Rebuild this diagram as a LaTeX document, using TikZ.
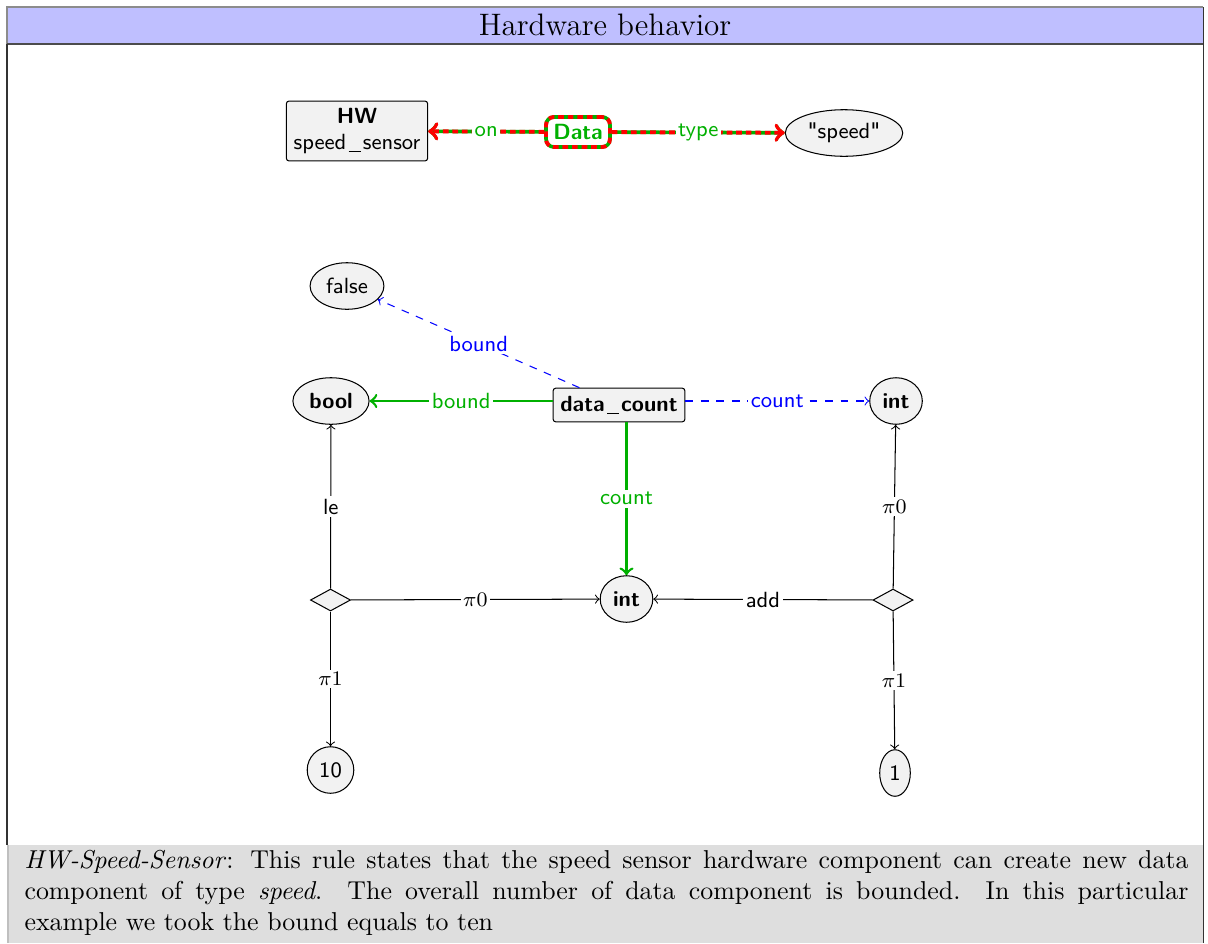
\documentclass[tikz,border=0pt]{standalone}
\usepackage{tikz}
\usetikzlibrary{shapes.geometric,positioning}
\definecolor{titleblue}{RGB}{191,191,255}
\definecolor{notegray}{RGB}{222,222,222}
\definecolor{nodegray}{RGB}{242,242,242}
\definecolor{newgreen}{RGB}{0,176,0}
\newcommand{\usc}{\kern0.9pt\rule[-1.1pt]{4.6pt}{0.45pt}\kern0.9pt}

\begin{document}
\begin{tikzpicture}[
      x=0.3866pt, y=-0.3866pt,
      every node/.style={font=\sffamily\fontsize{8.5}{10}\selectfont},
      ent/.style ={ellipse, draw, fill=nodegray, inner sep=2pt,
                   minimum height=18pt},
      comp/.style={rectangle, rounded corners=1pt, draw, fill=nodegray,
                   inner sep=2.8pt, align=center},
      tup/.style ={diamond, draw, fill=nodegray, inner sep=0pt,
                   minimum width=15.5pt, minimum height=8.5pt},
      arr/.style   ={->, thin},
      newarr/.style={->, draw=newgreen, line width=1pt},
      negarr/.style={->, draw=blue, thin, dashed},
      crearr/.style={->, draw=newgreen, line width=1.4pt},
      delarr/.style={->, draw=red, line width=1.5pt, dash pattern=on 2.2pt off 1.5pt},
      lbl/.style={fill=white, inner sep=1pt}
    ]
    \useasboundingbox (0,0) rectangle (1208,943);
    % --- frame ---
    \fill[titleblue] (7,7) rectangle (1203,44);
    \draw[black!45] (7,44) -- (7,7) -- (1203,7);
    \draw[black!70, line width=0.8pt] (7,44) -- (1203,44);
    \draw[black!80] (1203,7) -- (1203,943);
    \draw[black!80] (7,44) -- (7,845);
    \fill[notegray] (8,845) rectangle (1203,943);
    \draw[black!25] (8,845) -- (8,943);
    \node[font=\rmfamily\large] (title) at (605,25) {Hardware behavior};
    \node[font=\rmfamily\normalsize, text width=450pt, align=justify,
          anchor=north west, inner sep=0pt] (note) at (24,850)
      {\emph{HW-Speed-Sensor}: This rule states that the speed sensor hardware
       component can create new data\linebreak component of type \emph{speed}.
       The overall number of data component is bounded. In this
       particular\linebreak example we took the bound equals to ten};
    % --- created part ---
    \node[comp] (hw) at (357,131) {\textbf{HW}\\speed\usc sensor};
    \node[comp, rounded corners=3pt, fill=white, draw=newgreen, line width=1.4pt,
          text=newgreen,
          postaction={draw=red, line width=1.5pt, dash pattern=on 2.2pt off 1.5pt}]
      (data) at (578,132) {\textbf{Data}};
    \node[ent] (spd) at (844,133) {\textquotedbl speed\textquotedbl};
    % --- context ---
    \node[ent] (fls) at (347,286) {false};
    \node[ent] (bool) at (331,401) {\textbf{bool}};
    \node[comp, minimum height=13pt] (cnt) at (619,405) {\textbf{data\usc count}};
    \node[ent] (intr) at (896,401) {\textbf{int}};
    \node[ent] (intc) at (626.5,599) {\textbf{int}};
    \node[tup] (tl) at (330.5,600) {};
    \node[tup] (tr) at (893,600) {};
    \node[ent] (ten) at (330.5,770) {10};
    \node[ent] (one) at (895,773) {1};
    % --- arrows ---
    \draw[crearr] (data) -- (hw);
    \draw[delarr] (data) -- node[lbl, text=newgreen] {on} (hw);
    \draw[crearr] (data) -- (spd);
    \draw[delarr] (data) -- node[lbl, text=newgreen] {type} (spd);
    \draw[newarr] (cnt.west |- bool) -- node[lbl, text=newgreen] {bound} (bool);
    \draw[newarr] (cnt.south -| intc) -- node[lbl, text=newgreen] {count} (intc);
    \draw[negarr] (cnt) -- node[lbl, text=blue] {bound} (fls);
    \draw[negarr] (cnt.east |- intr) -- node[lbl, text=blue] {count} (intr);
    \draw[arr] (tl) -- node[lbl] {le} (bool);
    \draw[arr] (tl) -- node[lbl] {$\pi0$} (intc);
    \draw[arr] (tl) -- node[lbl] {$\pi1$} (ten);
    \draw[arr] (tr) -- node[lbl] {add} (intc);
    \draw[arr] (tr) -- node[lbl] {$\pi0$} (intr);
    \draw[arr] (tr) -- node[lbl] {$\pi1$} (one);
  \end{tikzpicture}
\end{document}
